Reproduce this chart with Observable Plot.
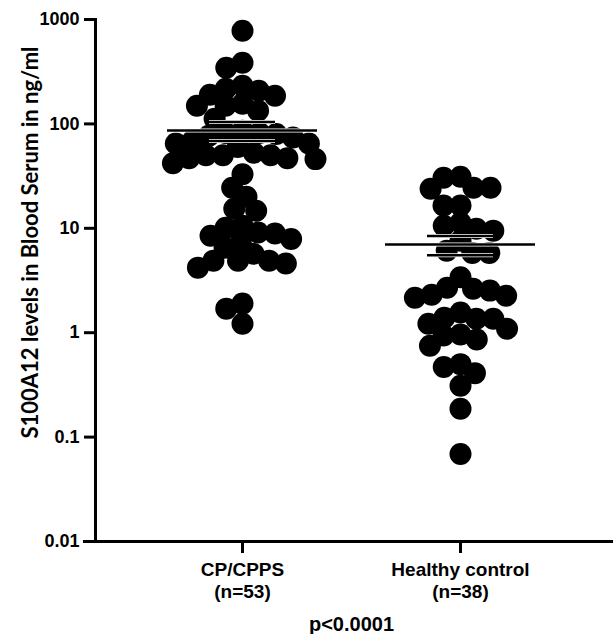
<!DOCTYPE html>
<html>
<head>
<meta charset="utf-8">
<script src="https://cdn.jsdelivr.net/npm/d3@7"></script>
<script src="https://cdn.jsdelivr.net/npm/@observablehq/plot@0.6"></script>
<style>
  html, body { margin: 0; padding: 0; background: #fff; }
</style>
</head>
<body>
<div id="chart"></div>
<script>
const groups = ["CP/CPPS", "Healthy control"];
const cpValues = [780, 386, 345, 232, 217, 208, 190, 186, 156, 149, 149, 134, 112,
  86, 82, 82, 80, 77, 74, 69, 65, 65, 60, 53, 50, 50, 50, 47, 47, 46, 42, 33,
  24.5, 20, 15.4, 14.7, 10.6, 10.1, 9.1, 8.9, 8.5, 7.9, 7.3,
  6.5, 5.7, 4.9, 4.9, 4.9, 4.6, 4.2, 1.9, 1.7, 1.22];
const hcValues = [31.2, 30.5, 24.5, 23.9, 24.5, 16.5, 16.5, 11.3, 10.6, 9.9, 9.5, 7.6,
  6.1, 5.8, 5.8, 3.4, 2.7, 2.64, 2.53, 2.31, 2.26, 2.16, 1.56, 1.39, 1.36, 1.36,
  1.22, 1.09, 0.96, 0.94, 0.86, 0.75, 0.5, 0.47, 0.41, 0.31, 0.187, 0.069];
const yTicks = [0.01, 0.1, 1, 10, 100, 1000];
const yTitle = "S100A12 levels in Blood Serum in ng/ml";
const pText = "p<0.0001";

const seriesValues = [cpValues, hcValues];
const data = groups.flatMap((g, i) =>
  seriesValues[i].slice().sort((a, b) => b - a).map(v => ({group: g, value: v})));
const counts = new Map(groups.map((g, i) => [g, seriesValues[i].length]));
const sem = v => d3.deviation(v) / Math.sqrt(v.length);

const W = 613, H = 634, mL = 95, mR = 6, mT = 19, mB = 93;

function build(offsets) {
  const dotMarks = groups.map((g, i) =>
    Plot.dot(data.filter(d => d.group === g), Plot.dodgeX({anchor: "middle", padding: -5},
      {y: "value", r: 11, fill: "#000", stroke: "none", dx: offsets[i]})));
  const meanRule = (reducer, inset, stroke, sw) =>
    Plot.tickY(data, Plot.groupX({y: reducer},
      {x: "group", y: "value", stroke, strokeWidth: sw, insetLeft: inset, insetRight: inset}));
  return Plot.plot({
    width: W, height: H,
    marginTop: mT, marginBottom: mB, marginLeft: mL, marginRight: mR,
    style: {fontFamily: "'Liberation Sans', Arial, sans-serif", background: "#fff", color: "#000"},
    x: {type: "band", domain: groups, paddingInner: 0.1, paddingOuter: 0.224},
    y: {type: "log", domain: [0.01, 1000]},
    marks: [
      Plot.frame({anchor: "left", stroke: "#000", strokeWidth: 3}),
      Plot.frame({anchor: "bottom", stroke: "#000", strokeWidth: 3, insetLeft: -11, insetRight: -6}),
      Plot.axisY({
        ticks: yTicks, tickFormat: d => String(d), tickSize: 11, tickPadding: 5,
        strokeWidth: 3, fontSize: 18, fontWeight: "bold", label: null
      }),
      Plot.axisX({
        anchor: "bottom", tickSize: 12, tickPadding: 7, strokeWidth: 3, fontSize: 19,
        fontWeight: "bold", lineHeight: 1.15, label: null,
        tickFormat: d => `${d}\n(n=${counts.get(d)})`
      }),
      ...dotMarks,
      meanRule("mean", 23, "#fff", 4),
      meanRule(v => d3.mean(v) + sem(v), 65, "#fff", 4),
      meanRule(v => d3.mean(v) - sem(v), 65, "#fff", 4),
      meanRule("mean", 23, "#000", 2.5),
      meanRule(v => d3.mean(v) + sem(v), 65, "#000", 2.5),
      meanRule(v => d3.mean(v) - sem(v), 65, "#000", 2.5),
      Plot.text([yTitle], {
        text: d => d, frameAnchor: "left", textAnchor: "middle", rotate: -90, dx: -65, dy: -38,
        fontFamily: "Lato", fontWeight: "bold", fontSize: 22, fill: "#000"
      }),
      Plot.text([pText], {
        text: d => d, frameAnchor: "bottom", textAnchor: "middle", dy: 89,
        fontSize: 20, fontWeight: "bold", fill: "#000"
      })
    ]
  });
}
// pass 1: find where the dodge transform centres its swarm (first datum sits on the centre);
// the band x scale shifts the dot marks by half a bandwidth when they are drawn.
const first = build([0, 0]);
const base = +first.querySelector("circle").getAttribute("cx");
const xs = first.scale("x");
const offsets = groups.map(g => xs.apply(g) - base);
const chart = build(offsets);
document.getElementById("chart").appendChild(chart);
</script>
</body>
</html>
